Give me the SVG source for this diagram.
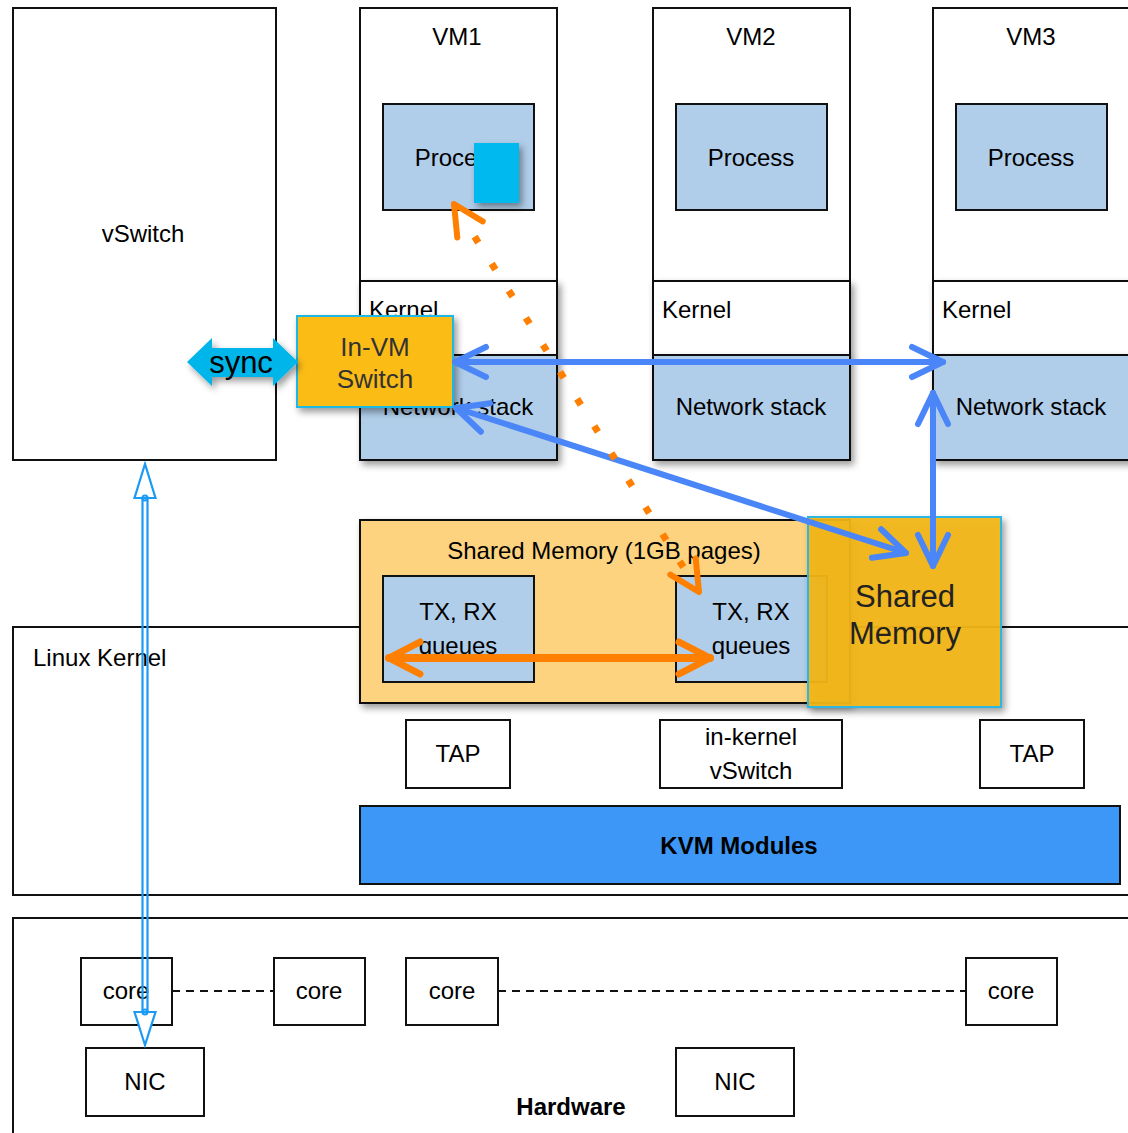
<svg xmlns="http://www.w3.org/2000/svg" width="1128" height="1133" viewBox="0 0 1128 1133">
<defs>
<style>
text{font-family:"Liberation Sans",Arial,sans-serif;font-size:24px;fill:#000}
.c{text-anchor:middle}
.b{font-weight:bold}
.box{fill:#fff;stroke:#111;stroke-width:2}
.lb{fill:#B0CDE9;stroke:#111;stroke-width:2}
.blue{fill:none;stroke:#4A86F8;stroke-width:6;stroke-linecap:round}
.org{fill:none;stroke:#FF7F00;stroke-linecap:round}
.chev{fill:none;stroke:#FF7F00;stroke-width:6;stroke-linecap:round;stroke-linejoin:round}
</style>
<filter id="sh" x="-20%" y="-20%" width="150%" height="150%">
<feDropShadow dx="3" dy="4" stdDeviation="3.5" flood-color="#000" flood-opacity="0.4"/>
</filter>
<marker id="mb" markerUnits="userSpaceOnUse" viewBox="-40 -25 50 50" refX="0" refY="0" markerWidth="50" markerHeight="50" orient="auto-start-reverse">
<path d="M-31,-15 L0,0 L-31,15" fill="none" stroke="#4A86F8" stroke-width="6" stroke-linecap="round" stroke-linejoin="round"/>
</marker>
<marker id="mo" markerUnits="userSpaceOnUse" viewBox="-40 -25 50 50" refX="0" refY="0" markerWidth="50" markerHeight="50" orient="auto-start-reverse">
<path d="M-31,-16 L0,0 L-31,16" fill="none" stroke="#FF7F00" stroke-width="7" stroke-linecap="round" stroke-linejoin="round"/>
</marker>
</defs>
<rect width="1128" height="1133" fill="#fff"/>

<g id="vswitch">
<rect class="box" x="13" y="8" width="263" height="452"/>
<text class="c" x="143" y="242">vSwitch</text>
</g>

<g id="vm1">
<rect class="box" x="360" y="8" width="197" height="273"/>
<text class="c" x="457" y="45">VM1</text>
<rect class="lb" x="383" y="104" width="151" height="106"/>
<text class="c" x="458" y="166">Process</text>
<rect class="box" x="360" y="281" width="197" height="74" filter="url(#sh)"/>
<text x="369" y="318">Kernel</text>
<rect class="lb" x="360" y="355" width="197" height="105" filter="url(#sh)"/>
<text class="c" x="458" y="415">Network stack</text>
</g>

<g id="vm2">
<rect class="box" x="653" y="8" width="197" height="273"/>
<text class="c" x="751" y="45">VM2</text>
<rect class="lb" x="676" y="104" width="151" height="106"/>
<text class="c" x="751" y="166">Process</text>
<rect class="box" x="653" y="281" width="197" height="74" filter="url(#sh)"/>
<text x="662" y="318">Kernel</text>
<rect class="lb" x="653" y="355" width="197" height="105" filter="url(#sh)"/>
<text class="c" x="751" y="415">Network stack</text>
</g>

<g id="vm3">
<rect class="box" x="933" y="8" width="210" height="273"/>
<text class="c" x="1031" y="45">VM3</text>
<rect class="lb" x="956" y="104" width="151" height="106"/>
<text class="c" x="1031" y="166">Process</text>
<rect class="box" x="933" y="281" width="210" height="74" filter="url(#sh)"/>
<text x="942" y="318">Kernel</text>
<rect class="lb" x="933" y="355" width="210" height="105" filter="url(#sh)"/>
<text class="c" x="1031" y="415">Network stack</text>
</g>

<g id="linux-kernel">
<rect class="box" x="13" y="627" width="1130" height="268"/>
<text x="33" y="666">Linux Kernel</text>
</g>

<g id="hardware">
<rect class="box" x="13" y="918" width="1130" height="230"/>
<text class="c b" x="571" y="1115">Hardware</text>
</g>

<g id="core1"><rect class="box" x="81" y="958" width="91" height="67"/><text class="c" x="126" y="999">core</text></g>
<g id="core2"><rect class="box" x="274" y="958" width="91" height="67"/><text class="c" x="319" y="999">core</text></g>
<g id="core3"><rect class="box" x="406" y="958" width="92" height="67"/><text class="c" x="452" y="999">core</text></g>
<g id="core4"><rect class="box" x="966" y="958" width="91" height="67"/><text class="c" x="1011" y="999">core</text></g>
<g id="nic1"><rect class="box" x="86" y="1048" width="118" height="68"/><text class="c" x="145" y="1090">NIC</text></g>
<g id="nic2"><rect class="box" x="676" y="1048" width="118" height="68"/><text class="c" x="735" y="1090">NIC</text></g>

<g id="tap1"><rect class="box" x="406" y="720" width="104" height="68"/><text class="c" x="458" y="762">TAP</text></g>
<g id="inkernel-vswitch"><rect class="box" x="660" y="720" width="182" height="68"/><text class="c" x="751" y="745">in-kernel</text><text class="c" x="751" y="779">vSwitch</text></g>
<g id="tap2"><rect class="box" x="980" y="720" width="104" height="68"/><text class="c" x="1032" y="762">TAP</text></g>

<g id="kvm">
<rect x="360" y="806" width="760" height="78" fill="#3D97F7" stroke="#111" stroke-width="2"/>
<text class="c b" x="739" y="854">KVM Modules</text>
</g>

<g id="shared-memory-1gb">
<rect x="360" y="520" width="490" height="183" fill="#FDD37F" stroke="#111" stroke-width="2" filter="url(#sh)"/>
<text class="c" x="604" y="559">Shared Memory (1GB pages)</text>
<rect class="lb" x="383" y="576" width="151" height="106"/>
<text class="c" x="458" y="620">TX, RX</text>
<text class="c" x="458" y="654">queues</text>
<rect class="lb" x="676" y="576" width="151" height="106"/>
<text class="c" x="751" y="620">TX, RX</text>
<text class="c" x="751" y="654">queues</text>
</g>

<g id="shared-memory">
<rect x="808" y="517" width="193" height="190" fill="#F2B61A" fill-opacity="0.93" stroke="#2AB8E2" stroke-width="2" filter="url(#sh)"/>
<text class="c" x="905" y="607" style="font-size:31px;fill:#222">Shared</text>
<text class="c" x="905" y="644" style="font-size:31px;fill:#222">Memory</text>
</g>

<g id="in-vm-switch">
<rect x="297" y="316" width="156" height="91" fill="#FCBC15" stroke="#1BB8E6" stroke-width="2" filter="url(#sh)"/>
<text class="c" x="375" y="356" style="font-size:26px;fill:#333">In-VM</text>
<text class="c" x="375" y="388" style="font-size:26px;fill:#333">Switch</text>
</g>

<g id="sync">
<polygon points="187,362 212,338 212,348 273,348 273,338 298,362 273,386 273,377 212,377 212,386" fill="#00B5EA" filter="url(#sh)"/>
<text class="c" x="241" y="373" style="font-size:31px">sync</text>
</g>

<g id="cyan-square">
<rect x="474" y="143" width="45" height="60" fill="#00B9EF" filter="url(#sh)"/>
</g>

<g id="connectors">
<line x1="172" y1="991" x2="274" y2="991" stroke="#111" stroke-width="2" stroke-dasharray="8 6"/>
<line x1="498" y1="991" x2="966" y2="991" stroke="#111" stroke-width="2" stroke-dasharray="8 6"/>
<line class="blue" x1="455" y1="362" x2="943" y2="362" marker-start="url(#mb)" marker-end="url(#mb)"/>
<line class="blue" x1="456" y1="408" x2="906" y2="553" marker-start="url(#mb)" marker-end="url(#mb)"/>
<line class="blue" x1="933" y1="393" x2="933" y2="566" marker-start="url(#mb)" marker-end="url(#mb)"/>
<line class="org" x1="389" y1="658" x2="710" y2="658" stroke-width="8" marker-start="url(#mo)" marker-end="url(#mo)"/>
<line x1="474.6" y1="236.6" x2="683.6" y2="567.6" stroke="#FF7F00" stroke-width="7" stroke-dasharray="7 25"/>
<polyline class="chev" points="457.3,237.4 454,204 482.7,221.4"/>
<polyline class="chev" points="670.3,574.6 699,592 695.7,558.6"/>
<g fill="none" stroke="#1A9AF5" stroke-width="2.2">
<line x1="142.5" y1="496" x2="142.5" y2="1014"/>
<line x1="147.5" y1="496" x2="147.5" y2="1014"/>
<polygon points="145,464 134.5,498 155.5,498" fill="#fff"/>
<polygon points="145,1045 134.5,1012 155.5,1012" fill="#fff"/>
<circle cx="145" cy="498" r="2.5"/>
<circle cx="145" cy="1012" r="2.5"/>
</g>
</g>
</svg>
